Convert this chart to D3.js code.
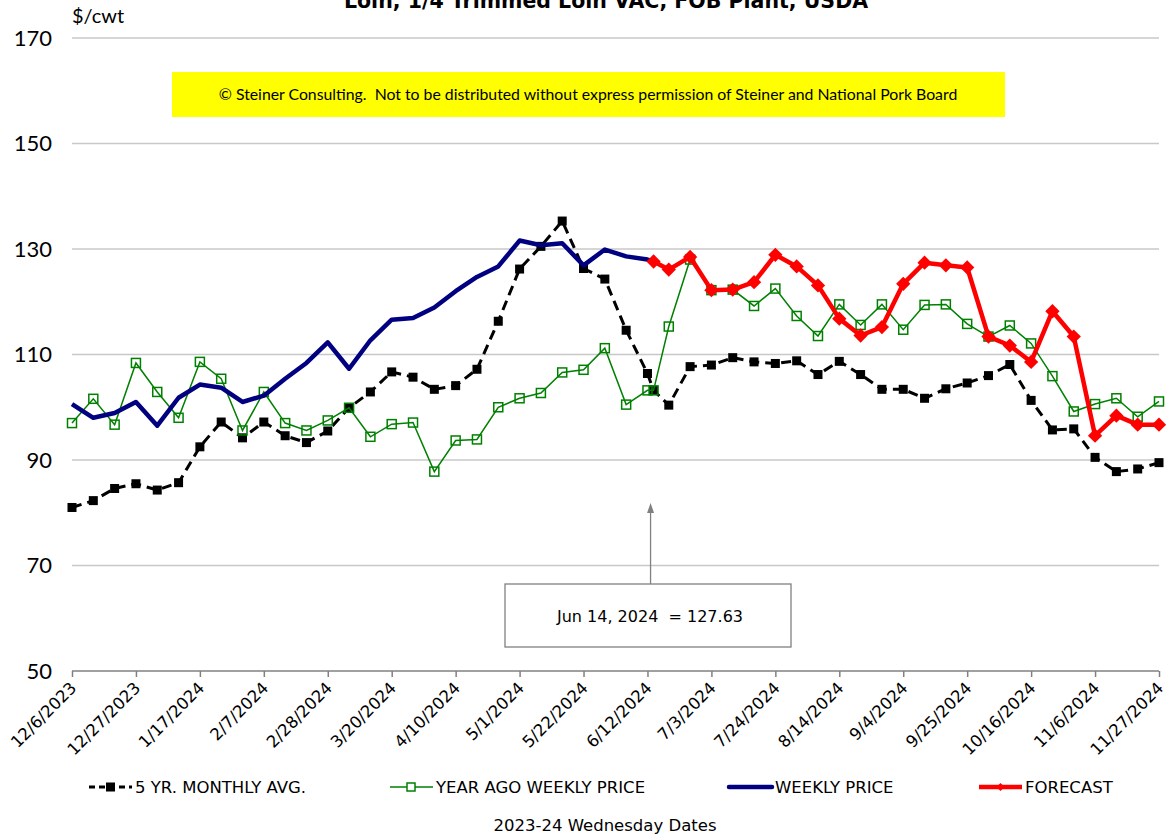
<!DOCTYPE html>
<html>
<head>
<meta charset="utf-8">
<script src="https://cdn.jsdelivr.net/npm/d3@7"></script>
<style>
  body { margin: 0; background: #fff; }
  svg { display: block; }
  .tah { font-family: "DejaVu Sans", sans-serif; }
  .cal { font-family: Lato, "Open Sans", sans-serif; }
</style>
</head>
<body>
<svg id="chart" width="1168" height="839"></svg>
<script>
// Loin, 1/4 Trimmed Loin VAC - weekly prices vs forecast

// weekly Wednesday dates (plus the Jun 14 forecast start)
const dates = [
  "2023-12-06","2023-12-13","2023-12-20","2023-12-27","2024-01-03","2024-01-10","2024-01-17",
  "2024-01-24","2024-01-31","2024-02-07","2024-02-14","2024-02-21","2024-02-28","2024-03-06",
  "2024-03-13","2024-03-20","2024-03-27","2024-04-03","2024-04-10","2024-04-17","2024-04-24",
  "2024-05-01","2024-05-08","2024-05-15","2024-05-22","2024-05-29","2024-06-05","2024-06-12",
  "2024-06-14",
  "2024-06-19","2024-06-26","2024-07-03","2024-07-10","2024-07-17","2024-07-24","2024-07-31",
  "2024-08-07","2024-08-14","2024-08-21","2024-08-28","2024-09-04","2024-09-11","2024-09-18",
  "2024-09-25","2024-10-02","2024-10-09","2024-10-16","2024-10-23","2024-10-30","2024-11-06",
  "2024-11-13","2024-11-20","2024-11-27"
];

const fiveYrAvg = [
  81.0, 82.3, 84.6, 85.5, 84.3, 85.7, 92.5, 97.2, 94.2, 97.2, 94.6, 93.3, 95.5, 99.9,
  102.9, 106.7, 105.7, 103.4, 104.1, 107.2, 116.3, 126.2, 130.5, 135.3, 126.3, 124.3, 114.6, 106.4,
  103.2,
  100.4, 107.7, 108.0, 109.4, 108.6, 108.3, 108.8, 106.2, 108.7, 106.2, 103.4, 103.4, 101.7, 103.5,
  104.6, 106.0, 108.1, 101.3, 95.7, 95.9, 90.5, 87.8, 88.3, 89.5
];

const yearAgo = [
  97.0, 101.6, 96.7, 108.4, 102.9, 98.0, 108.6, 105.4, 95.6, 102.9, 97.0, 95.6, 97.5, 99.9,
  94.4, 96.8, 97.1, 87.8, 93.7, 93.9, 100.0, 101.7, 102.7, 106.6, 107.1, 111.2, 100.5, 103.2,
  103.2,
  115.3, 128.0, 122.2, 122.3, 119.2, 122.5, 117.3, 113.5, 119.5, 115.6, 119.5, 114.7, 119.4, 119.5,
  115.8, 113.4, 115.5, 112.1, 105.9, 99.2, 100.6, 101.7, 98.2, 101.1
];

const weekly = [
  100.6, 98.0, 98.9, 101.0, 96.5, 101.8, 104.3, 103.7, 101.0, 102.2, 105.4, 108.4, 112.3, 107.3,
  112.7, 116.6, 116.9, 118.9, 122.0, 124.7, 126.7, 131.6, 130.7, 131.1, 126.9, 129.9, 128.6, 128.0,
  127.63,
  null, null, null, null, null, null, null, null, null, null, null, null, null, null,
  null, null, null, null, null, null, null, null, null, null
];

const forecast = [
  null, null, null, null, null, null, null, null, null, null, null, null, null, null,
  null, null, null, null, null, null, null, null, null, null, null, null, null, null,
  127.63,
  126.1, 128.5, 122.2, 122.3, 123.7, 128.9, 126.7, 123.1, 116.8, 113.6, 115.2, 123.4, 127.4, 126.9,
  126.5, 113.4, 111.7, 108.6, 118.2, 113.4, 94.6, 98.4, 96.7, 96.7
];

const tickDates = [
  "2023-12-06","2023-12-27","2024-01-17","2024-02-07","2024-02-28","2024-03-20","2024-04-10",
  "2024-05-01","2024-05-22","2024-06-12","2024-07-03","2024-07-24","2024-08-14","2024-09-04",
  "2024-09-25","2024-10-16","2024-11-06","2024-11-27"
];
const yTicks = [50, 70, 90, 110, 130, 150, 170];

const annotDate = "2024-06-14";
const annotText = "Jun 14, 2024  = 127.63";

const parse = d3.timeParse("%Y-%m-%d");
const fmt = d3.timeFormat("%-m/%-d/%Y");

const svg = d3.select("#chart");
const L = 72, R = 1159, T = 38, B = 671;

const x = d3.scaleTime()
  .domain([parse(tickDates[0]), parse(tickDates[tickDates.length - 1])])
  .range([L, R]);
const y = d3.scaleLinear().domain([50, 170]).range([B, T]);

// title (clipped at the top like the original)
svg.append("text")
  .attr("class", "tah")
  .attr("x", 606).attr("y", 8)
  .attr("text-anchor", "middle")
  .attr("font-size", 20.5).attr("font-weight", "bold")
  .text("Loin, 1/4 Trimmed Loin VAC, FOB Plant, USDA");

// gridlines
svg.append("g")
  .selectAll("line")
  .data(yTicks.filter(d => d > 50))
  .join("line")
  .attr("x1", L).attr("x2", R)
  .attr("y1", d => y(d)).attr("y2", d => y(d))
  .attr("stroke", "#c8c8c8").attr("stroke-width", 1.5);

// y axis labels
const yAxis = svg.append("g")
  .attr("transform", `translate(${L},0)`)
  .call(d3.axisLeft(y).tickValues(yTicks).tickSize(0).tickPadding(20));
yAxis.select(".domain").remove();
yAxis.selectAll("text")
  .attr("class", "cal")
  .attr("font-size", 22)
  .attr("fill", "#000");

svg.append("text")
  .attr("class", "cal")
  .attr("x", L).attr("y", 23)
  .attr("font-size", 20)
  .text("$/cwt");

// copyright banner
svg.append("rect")
  .attr("x", 172).attr("y", 72)
  .attr("width", 833).attr("height", 45)
  .attr("fill", "#ffff00");
svg.append("text")
  .attr("class", "cal")
  .attr("x", 588).attr("y", 100)
  .attr("text-anchor", "middle")
  .attr("font-size", 15.8)
  .style("white-space", "pre")
  .text("© Steiner Consulting.  Not to be distributed without express permission of Steiner and National Pork Board");

// x axis
const xAxis = svg.append("g")
  .attr("transform", `translate(0,${B})`)
  .call(d3.axisBottom(x).tickValues(tickDates.map(parse)).tickSize(6).tickFormat(fmt));
xAxis.select(".domain").attr("stroke", "#808080").attr("stroke-width", 1.5).attr("d", `M${L},0H${R}`);
xAxis.selectAll(".tick line").attr("stroke", "#808080").attr("stroke-width", 1.5);
xAxis.selectAll(".tick text")
  .attr("class", "tah")
  .attr("font-size", 16.5)
  .attr("fill", "#000")
  .attr("text-anchor", "end")
  .attr("x", 0).attr("y", 0).attr("dy", 0)
  .attr("transform", "translate(5,18) rotate(-45)");

// series
const pts = arr => dates.map((d, i) => ({ date: parse(d), v: arr[i] })).filter(p => p.v != null);
const line = d3.line().x(p => x(p.date)).y(p => y(p.v));

const s5 = pts(fiveYrAvg), sYA = pts(yearAgo), sW = pts(weekly), sF = pts(forecast);

svg.append("path").datum(s5)
  .attr("d", line).attr("fill", "none")
  .attr("stroke", "#000").attr("stroke-width", 3)
  .attr("stroke-dasharray", "10,6");
svg.append("g").selectAll("rect").data(s5).join("rect")
  .attr("x", p => x(p.date) - 4.5).attr("y", p => y(p.v) - 4.5)
  .attr("width", 9).attr("height", 9).attr("fill", "#000");

svg.append("path").datum(sYA)
  .attr("d", line).attr("fill", "none")
  .attr("stroke", "#008000").attr("stroke-width", 1.5);
svg.append("g").selectAll("rect").data(sYA).join("rect")
  .attr("x", p => x(p.date) - 4.5).attr("y", p => y(p.v) - 4.5)
  .attr("width", 9).attr("height", 9)
  .attr("fill", "none").attr("stroke", "#008000").attr("stroke-width", 1.5);

svg.append("path").datum(sW)
  .attr("d", line).attr("fill", "none")
  .attr("stroke", "#000080").attr("stroke-width", 4.5)
  .attr("stroke-linejoin", "round");

svg.append("path").datum(sF)
  .attr("d", line).attr("fill", "none")
  .attr("stroke", "#ff0000").attr("stroke-width", 4.5)
  .attr("stroke-linejoin", "round");
const diamond = d3.symbol().type(d3.symbolDiamond2).size(130);
svg.append("g").selectAll("path").data(sF).join("path")
  .attr("d", diamond)
  .attr("transform", p => `translate(${x(p.date)},${y(p.v)})`)
  .attr("fill", "#ff0000");

// annotation arrow and box
const ax = x(parse(annotDate)) - 3;
svg.append("line")
  .attr("x1", ax).attr("x2", ax)
  .attr("y1", 584).attr("y2", 510)
  .attr("stroke", "#808080").attr("stroke-width", 1.3);
svg.append("path")
  .attr("d", `M${ax},503L${ax - 3.5},513L${ax + 3.5},513Z`)
  .attr("fill", "#808080");
svg.append("rect")
  .attr("x", 505).attr("y", 584)
  .attr("width", 286).attr("height", 63)
  .attr("fill", "#fff").attr("stroke", "#808080").attr("stroke-width", 1.3);
svg.append("text")
  .attr("class", "tah")
  .attr("x", 650).attr("y", 622)
  .attr("text-anchor", "middle")
  .attr("font-size", 16)
  .style("white-space", "pre")
  .text(annotText);

// legend
const legend = svg.append("g").attr("transform", "translate(0,787)");
const items = [
  { name: "5 YR. MONTHLY AVG.", x0: 89, color: "#000", w: 3, dash: "6,4", marker: "sq" },
  { name: "YEAR AGO WEEKLY PRICE", x0: 390, color: "#008000", w: 1.5, marker: "hsq" },
  { name: "WEEKLY PRICE", x0: 729, color: "#000080", w: 4.5 },
  { name: "FORECAST", x0: 979, color: "#ff0000", w: 4.5, marker: "dia" }
];
items.forEach(it => {
  const g = legend.append("g").attr("transform", `translate(${it.x0},0)`);
  g.append("line")
    .attr("x1", 0).attr("x2", 43)
    .attr("stroke", it.color).attr("stroke-width", it.w)
    .attr("stroke-linecap", it.marker ? "butt" : "round")
    .attr("stroke-dasharray", it.dash || null);
  if (it.marker === "sq") {
    g.append("rect").attr("x", 17).attr("y", -4.5).attr("width", 9).attr("height", 9).attr("fill", "#000");
  } else if (it.marker === "hsq") {
    g.append("rect").attr("x", 17).attr("y", -4).attr("width", 8).attr("height", 8)
      .attr("fill", "#fff").attr("stroke", it.color).attr("stroke-width", 1.5);
  } else if (it.marker === "dia") {
    g.append("path").attr("d", d3.symbol().type(d3.symbolDiamond2).size(40))
      .attr("transform", "translate(21.5,0)").attr("fill", it.color);
  }
  g.append("text")
    .attr("class", "tah")
    .attr("x", 46).attr("y", 6)
    .attr("font-size", 16.5)
    .text(it.name);
});

svg.append("text")
  .attr("class", "tah")
  .attr("x", 605).attr("y", 831)
  .attr("text-anchor", "middle")
  .attr("font-size", 16.5)
  .text("2023-24 Wednesday Dates");
</script>
</body>
</html>
